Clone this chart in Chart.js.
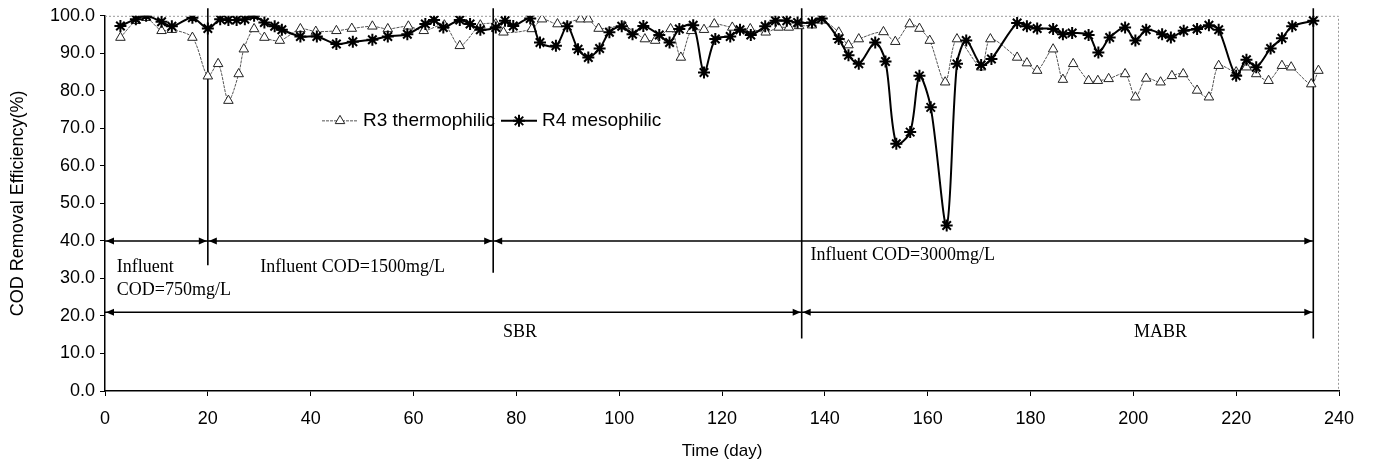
<!DOCTYPE html>
<html>
<head>
<meta charset="utf-8">
<title>COD removal efficiency</title>
<script src="https://cdn.jsdelivr.net/npm/chart.js@4.4.1/dist/chart.umd.min.js"></script>
<style>
  html, body { margin: 0; padding: 0; background: #fff; }
  #wrap { width: 1374px; height: 464px; }
</style>
</head>
<body>
<div id="wrap"><canvas id="chart" width="1374" height="464"></canvas></div>
<script>
// --- DONNÉES ---

// R3 thermophilic : jours / efficacité (%)
const r3Days = [3, 6, 8, 11, 13, 17, 20, 22, 24, 26, 27, 29, 31, 34, 38, 41, 45, 48, 52, 55, 59, 62, 66, 69, 73, 76,
  77.5, 83, 85, 88, 92.5, 94, 96, 101, 105, 107, 110, 112, 114, 116.5, 118.5, 122, 125.5, 128.5, 131, 133, 135,
  137.5, 139.5, 142.7, 144.6, 146.6, 151.4, 153.7, 156.5, 158.4, 160.4, 163.4, 165.7, 170.4, 172.2, 177.4, 179.3,
  181.3, 184.4, 186.3, 188.3, 191.3, 193.1, 195.2, 198.4, 200.4, 202.5, 205.3, 207.5, 209.7, 212.4, 214.7, 216.6,
  220, 222, 223.9, 226.3, 228.9, 230.7, 234.6, 236];
const r3Values = [94.2, 98.7, 99.5, 96.0, 96.3, 94.2, 83.9, 87.2, 77.4, 84.5, 91.1, 96.5, 94.2, 93.4, 96.5, 95.8, 96.0, 96.6,
  97.2, 96.5, 97.2, 96.0, 97.5, 92.0, 97.5, 97.8, 95.6, 96.5, 99.1, 97.8, 99.1, 99.1, 96.6, 97.2, 93.8, 93.4, 96.5,
  88.9, 96.0, 96.3, 97.8, 96.9, 96.5, 95.6, 96.9, 96.9, 97.3, 97.5, 98.8, 95.6, 92.2, 93.8, 95.7, 93.1, 97.8, 96.6,
  93.4, 82.3, 93.8, 86.3, 93.8, 88.9, 87.4, 85.4, 91.1, 83.0, 87.2, 82.7, 82.7, 83.2, 84.5, 78.3, 83.3, 82.3, 84.0,
  84.5, 80.1, 78.3, 86.7, 85.0, 86.3, 84.5, 82.7, 86.7, 86.3, 81.8, 85.4];

// R4 mesophilic : jours / efficacité (%)
const r4Days = [3, 6, 8, 11, 13, 17, 20, 22.4, 24, 25.6, 27.2, 29, 31, 33, 34.4, 38, 41.2, 45, 48.2, 52, 55, 58.8, 62.3,
  64, 65.8, 69, 71, 73, 76, 77.8, 79.4, 82.7, 84.6, 87.7, 89.9, 92, 94, 96.2, 98.1, 100.5, 102.6, 104.7, 107.8, 109.8,
  111.7, 114.4, 116.5, 118.7, 121.6, 123.5, 125.6, 128.4, 130.4, 132.6, 134.7, 137.5, 139.4, 142.7, 144.6, 146.6,
  149.8, 151.8, 153.9, 156.6, 158.4, 160.6, 163.7, 165.7, 167.5, 170.4, 172.4, 177.4, 179.3, 181.3, 184.4, 186.3,
  188.1, 191.3, 193.2, 195.4, 198.4, 200.4, 202.5, 205.6, 207.3, 209.8, 212.4, 214.7, 216.6, 220, 222, 223.9, 226.7,
  228.9, 230.9, 235];
const r4Values = [97.3, 99.1, 100, 98.4, 97.2, 99.5, 96.6, 99.1, 98.9, 98.9, 99.1, 100, 98.2, 97.2, 96.3, 94.5, 94.5, 92.5,
  93.1, 93.6, 94.5, 95.1, 97.8, 98.9, 96.9, 98.9, 97.8, 96.3, 96.9, 98.7, 97.3, 99.3, 92.9, 92.0, 97.2, 91.1, 88.9,
  91.3, 95.6, 97.2, 95.1, 97.3, 94.9, 92.9, 96.5, 97.5, 84.9, 93.8, 94.5, 96.3, 94.9, 97.2, 98.7, 98.7, 98.2, 98.2,
  99.3, 93.8, 89.5, 87.2, 92.9, 87.8, 65.9, 69.0, 84.0, 75.6, 44.1, 87.2, 93.4, 86.9, 88.5, 98.1, 97.2, 96.6, 96.5,
  95.1, 95.4, 94.9, 90.2, 94.2, 96.9, 93.4, 96.3, 95.1, 94.2, 96.0, 96.5, 97.5, 96.3, 84.0, 88.3, 86.3, 91.3, 94.0,
  97.2, 98.7];

// Phases : limites (jours) et flèches
const phaseLines = [20, 75.5, 135.5, 235];          // traits verticaux
const phaseLineBottoms = [33.5, 31.5, 14, 14];       // bas des traits (%)
const influentBounds = [0, 20, 75.5, 235];           // flèches à 40 %
const reactorBounds = [0, 135.5, 235];               // flèches à 21 %
const influentArrowLevel = 40;
const reactorArrowLevel = 21;

// Textes des annotations (jour, %, alignement)
const noteTexts = ["Influent", "COD=750mg/L", "Influent COD=1500mg/L", "Influent COD=3000mg/L", "SBR", "MABR"];
const noteDays = [2.3, 2.3, 30.2, 137.2, 80.7, 205.3];
const noteLevels = [33, 26.9, 33, 36.2, 15.7, 15.7];
const noteAlign = ["left", "left", "left", "left", "center", "center"];

const xTicks = { min: 0, max: 240, step: 20 };
const yTicks = { min: 0, max: 100, step: 10 };
const legendLevel = 72;

// --- FONCTIONS UTILITAIRES ---

const toPoints = (days, values) => days.map((d, i) => ({ x: d, y: values[i] }));

/** Petite tête de flèche pleine, dir = +1 vers la droite, -1 vers la gauche. */
function arrowHead(ctx, x, y, dir) {
  ctx.beginPath();
  ctx.moveTo(x, y);
  ctx.lineTo(x - dir * 8, y - 3.5);
  ctx.lineTo(x - dir * 8, y + 3.5);
  ctx.closePath();
  ctx.fill();
}

function arrowRow(ctx, xs, bounds, yPix) {
  for (let i = 0; i < bounds.length - 1; i++) {
    const a = xs.getPixelForValue(bounds[i]);
    const b = xs.getPixelForValue(bounds[i + 1]);
    ctx.beginPath();
    ctx.moveTo(a, yPix);
    ctx.lineTo(b, yPix);
    ctx.stroke();
    arrowHead(ctx, a + 1, yPix, -1);
    arrowHead(ctx, b - 1, yPix, 1);
  }
}

// --- PLUGINS ---

const phasePlugin = {
  id: 'phases',
  beforeDatasetsDraw(chart) {
    const { ctx, chartArea, scales: { x, y } } = chart;
    ctx.save();

    // cadre pointillé (haut et droite)
    ctx.strokeStyle = '#999';
    ctx.lineWidth = 1;
    ctx.setLineDash([2, 2]);
    ctx.beginPath();
    ctx.moveTo(chartArea.left, chartArea.top + 0.5);
    ctx.lineTo(chartArea.right - 0.5, chartArea.top + 0.5);
    ctx.lineTo(chartArea.right - 0.5, chartArea.bottom);
    ctx.stroke();
    ctx.setLineDash([]);

    // traits verticaux des phases
    ctx.strokeStyle = '#000';
    ctx.lineWidth = 1.6;
    phaseLines.forEach((d, i) => {
      const px = x.getPixelForValue(d);
      ctx.beginPath();
      ctx.moveTo(px, y.getPixelForValue(102));
      ctx.lineTo(px, y.getPixelForValue(phaseLineBottoms[i]));
      ctx.stroke();
    });

    // flèches
    ctx.fillStyle = '#000';
    ctx.lineWidth = 1.5;
    arrowRow(ctx, x, influentBounds, y.getPixelForValue(influentArrowLevel));
    arrowRow(ctx, x, reactorBounds, y.getPixelForValue(reactorArrowLevel));

    // textes
    ctx.font = '18px "Liberation Serif", "Times New Roman", serif';
    ctx.textBaseline = 'middle';
    noteTexts.forEach((t, i) => {
      ctx.textAlign = noteAlign[i];
      ctx.fillText(t, x.getPixelForValue(noteDays[i]), y.getPixelForValue(noteLevels[i]));
    });
    ctx.restore();
  }
};

const legendPlugin = {
  id: 'innerLegend',
  afterDraw(chart) {
    const { ctx, chartArea } = chart;
    const yPix = chart.scales.y.getPixelForValue(legendLevel);
    let left = chartArea.left + 217;
    ctx.save();
    ctx.font = '19px "Liberation Sans", Arial, sans-serif';
    ctx.textBaseline = 'middle';
    ctx.textAlign = 'left';
    chart.data.datasets.forEach((ds) => {
      const style = { pointStyle: ds.pointStyle, radius: ds.pointRadius, borderWidth: ds.pointBorderWidth, rotation: 0 };
      ctx.strokeStyle = ds.borderColor;
      ctx.lineWidth = ds.borderWidth;
      ctx.setLineDash(ds.borderDash || []);
      ctx.beginPath();
      ctx.moveTo(left, yPix);
      ctx.lineTo(left + 36, yPix);
      ctx.stroke();
      ctx.setLineDash([]);
      ctx.fillStyle = ds.pointBackgroundColor;
      ctx.strokeStyle = ds.pointBorderColor;
      ctx.lineWidth = ds.pointBorderWidth;
      Chart.helpers.drawPoint(ctx, style, left + 18, yPix);
      ctx.fillStyle = '#000';
      ctx.fillText(ds.label, left + 41, yPix);
      left += 41 + ctx.measureText(ds.label).width + 6;
    });
    ctx.restore();
  }
};

// --- GRAPHIQUE ---

const tickFont = { family: '"Liberation Sans", Arial, sans-serif', size: 18 };

new Chart(document.getElementById('chart'), {
  type: 'line',
  data: {
    datasets: [
      {
        label: 'R3 thermophilic',
        data: toPoints(r3Days, r3Values),
        borderColor: '#555',
        borderWidth: 1,
        borderDash: [3, 1],
        pointStyle: 'triangle',
        pointRadius: 5.5,
        pointBackgroundColor: '#fff',
        pointBorderColor: '#222',
        pointBorderWidth: 1,
        tension: 0.3,
        order: 2
      },
      {
        label: 'R4 mesophilic',
        data: toPoints(r4Days, r4Values),
        borderColor: '#000',
        borderWidth: 2,
        pointStyle: 'star',
        pointRadius: 6,
        pointBackgroundColor: '#000',
        pointBorderColor: '#000',
        pointBorderWidth: 2,
        tension: 0.3,
        order: 1
      }
    ]
  },
  options: {
    responsive: false,
    animation: false,
    layout: { padding: { top: 15, right: 35, left: 0, bottom: 0 } },
    plugins: { legend: { display: false }, tooltip: { enabled: false } },
    scales: {
      x: {
        type: 'linear',
        min: xTicks.min, max: xTicks.max,
        ticks: { stepSize: xTicks.step, color: '#000', font: tickFont, padding: 12, maxRotation: 0 },
        grid: { drawOnChartArea: false, tickLength: 5, color: '#000' },
        border: { color: '#000', width: 1.5 },
        title: { display: true, text: 'Time (day)', color: '#000', font: { ...tickFont, size: 17 }, padding: { top: 0, bottom: 2 } },
        afterFit(scale) { scale.height = 73; }
      },
      y: {
        min: yTicks.min, max: yTicks.max,
        ticks: { stepSize: yTicks.step, color: '#000', font: tickFont, padding: 5, callback: v => Number(v).toFixed(1) },
        grid: { drawOnChartArea: false, tickLength: 5, color: '#000' },
        border: { color: '#000', width: 1.5 },
        title: { display: true, text: 'COD Removal Efficiency(%)', color: '#000', font: { ...tickFont, size: 18 }, padding: { top: 7, bottom: 0 } },
        afterFit(scale) { scale.width = 105; }
      }
    }
  },
  plugins: [phasePlugin, legendPlugin]
});
</script>
</body>
</html>
